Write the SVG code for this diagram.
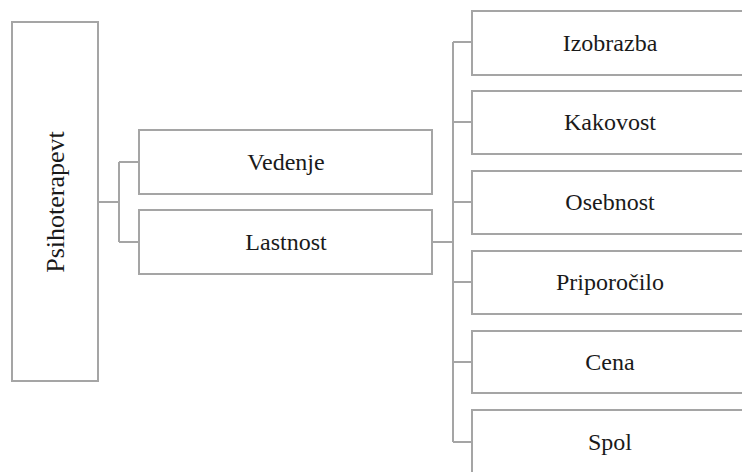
<svg xmlns="http://www.w3.org/2000/svg" width="742" height="472" viewBox="0 0 742 472">
<style>
.box{fill:#ffffff;stroke:#a5a5a5;stroke-width:2}
.lbl{font-family:"Liberation Serif","Times New Roman",serif;font-size:24px;fill:#1a1a1a;text-anchor:middle}
.conn{fill:none;stroke:#a5a5a5;stroke-width:2}
</style>
<rect width="742" height="472" fill="#ffffff"/>
<g id="connectors">
<path class="conn" d="M98,202 H119 M119,162 V242 M119,162 H139 M119,242 H139"/>
<path class="conn" d="M432,242 H453 M453,42 V442 M453,42 H472 M453,122 H472 M453,202 H472 M453,282 H472 M453,362 H472 M453,442 H472"/>
</g>
<g id="psihoterapevt">
<rect class="box" x="12" y="22" width="86" height="359"/>
<text class="lbl" style="font-size:26px" transform="translate(64,202) rotate(-90)">Psihoterapevt</text>
</g>
<g id="vedenje">
<rect class="box" x="139" y="130" width="293" height="64"/>
<text class="lbl" x="286" y="170">Vedenje</text>
</g>
<g id="lastnost">
<rect class="box" x="139" y="210" width="293" height="64"/>
<text class="lbl" x="286" y="250">Lastnost</text>
</g>
<g id="izobrazba">
<rect class="box" x="472" y="11" width="280" height="64"/>
<text class="lbl" x="610" y="51">Izobrazba</text>
</g>
<g id="kakovost">
<rect class="box" x="472" y="91" width="280" height="63"/>
<text class="lbl" x="610" y="130">Kakovost</text>
</g>
<g id="osebnost">
<rect class="box" x="472" y="171" width="280" height="63"/>
<text class="lbl" x="610" y="210">Osebnost</text>
</g>
<g id="priporocilo">
<rect class="box" x="472" y="251" width="280" height="63"/>
<text class="lbl" x="610" y="290">Priporočilo</text>
</g>
<g id="cena">
<rect class="box" x="472" y="331" width="280" height="62"/>
<text class="lbl" x="610" y="370">Cena</text>
</g>
<g id="spol">
<rect class="box" x="472" y="410" width="280" height="70"/>
<text class="lbl" x="610" y="450">Spol</text>
</g>
</svg>
